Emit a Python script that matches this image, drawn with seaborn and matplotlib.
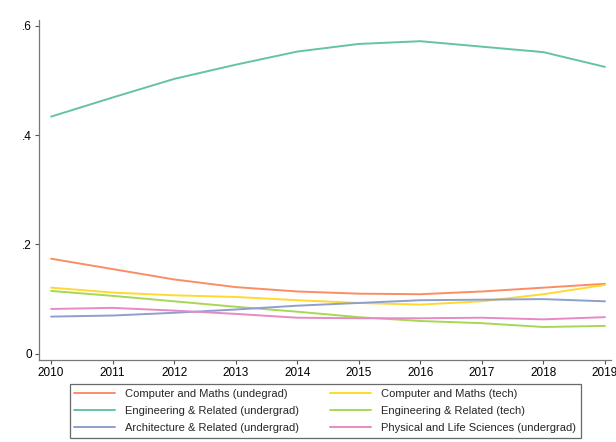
import pandas as pd
import matplotlib.pyplot as plt
import seaborn as sns

sns.set_theme(style="ticks")
plt.rcParams['font.family'] = ['Liberation Sans', 'DejaVu Sans']

years = list(range(2010, 2020))
series_names = [
    "Computer and Maths (undegrad)",
    "Computer and Maths (tech)",
    "Engineering & Related (undergrad)",
    "Engineering & Related (tech)",
    "Architecture & Related (undergrad)",
    "Physical and Life Sciences (undergrad)",
]
comp_undergrad = [0.174, 0.155, 0.136, 0.122, 0.114, 0.110, 0.109, 0.114, 0.121, 0.128]
comp_tech = [0.121, 0.112, 0.107, 0.104, 0.098, 0.093, 0.090, 0.096, 0.109, 0.126]
eng_undergrad = [0.434, 0.469, 0.503, 0.529, 0.553, 0.567, 0.572, 0.562, 0.552, 0.525]
eng_tech = [0.115, 0.106, 0.096, 0.086, 0.077, 0.067, 0.060, 0.056, 0.049, 0.051]
arch_undergrad = [0.068, 0.070, 0.075, 0.081, 0.088, 0.093, 0.098, 0.099, 0.100, 0.096]
phys_undergrad = [0.082, 0.084, 0.079, 0.073, 0.066, 0.065, 0.065, 0.066, 0.063, 0.067]
colors = ["#fc8d62", "#ffd92f", "#66c2a5", "#a6d854", "#8da0cb", "#e78ac3"]

values = [comp_undergrad, comp_tech, eng_undergrad, eng_tech, arch_undergrad, phys_undergrad]
df = pd.concat(
    [pd.DataFrame({"year": years, "share": v, "field": n}) for n, v in zip(series_names, values)],
    ignore_index=True,
)

fig = plt.figure(figsize=(6.16, 4.42), dpi=100)
ax = fig.add_axes([0.063, 0.186, 0.929, 0.769])
sns.lineplot(data=df, x="year", y="share", hue="field", hue_order=series_names,
             palette=dict(zip(series_names, colors)), linewidth=1.4, ax=ax, legend=False)

ax.set_xlim(2009.8, 2019.1)
ax.set_ylim(-0.011, 0.611)
ax.set_xticks(years)
ax.set_yticks([0, 0.2, 0.4, 0.6])
ax.set_yticklabels(["0", ".2", ".4", ".6"])
ax.tick_params(labelsize=8.5, length=3, width=0.8, colors="#555555", labelcolor="black", pad=2)
ax.set_xlabel("")
ax.set_ylabel("")
sns.despine(ax=ax)
for s in ["left", "bottom"]:
    ax.spines[s].set_color("#777777")
    ax.spines[s].set_linewidth(0.9)

# legend fills column-wise, so reorder to read row-wise like the original
order = [0, 2, 4, 1, 3, 5]
handles = [plt.Line2D([], [], color=colors[i], linewidth=1.4) for i in order]
labels = [series_names[i] for i in order]
leg = fig.legend(handles, labels, loc="upper center", bbox_to_anchor=(0.528, 0.131),
                 borderaxespad=0, ncol=2, fontsize=8, frameon=True, fancybox=False,
                 handlelength=3.7, columnspacing=2.8, labelspacing=0.66, borderpad=0.4,
                 handletextpad=0.9)
leg.get_frame().set_edgecolor("#444444")
leg.get_frame().set_linewidth(0.9)

fig.savefig("out.png", dpi=100)
